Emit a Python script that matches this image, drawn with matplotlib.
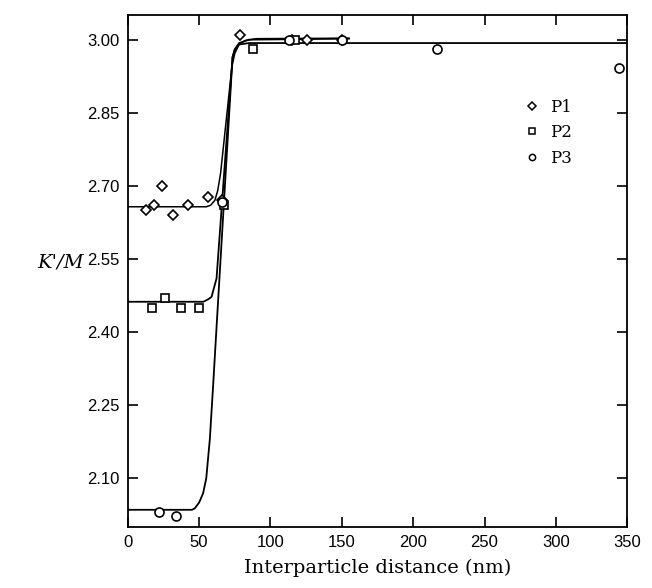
import matplotlib
matplotlib.use('Agg')
import matplotlib.pyplot as plt
from matplotlib.lines import Line2D

# measured points
p1_x = [13.1, 18.2, 24.3, 31.8, 42.3, 56.3, 65.7, 78.5, 115.0, 125.3, 149.9]
p1_y = [2.650, 2.660, 2.700, 2.640, 2.660, 2.677, 2.671, 3.010, 3.000, 3.000, 3.000]
p2_x = [17.0, 26.4, 37.0, 50.0, 67.3, 87.9, 117.0]
p2_y = [2.450, 2.470, 2.450, 2.450, 2.660, 2.981, 3.000]
p3_x = [21.9, 33.7, 65.7, 113.0, 149.9, 216.9, 344.3]
p3_y = [2.030, 2.022, 2.667, 3.000, 3.000, 2.981, 2.941]

# fitted curves
fit1_x = [0, 55, 58, 61, 63, 65, 69, 73, 75, 78, 82, 90, 155]
fit1_y = [2.657, 2.657, 2.660, 2.670, 2.690, 2.725, 2.835, 2.945, 2.972, 2.990, 2.998, 3.002, 3.003]
fit2_x = [0, 53, 56.3, 58.7, 62.2, 73.4, 75, 78, 85, 155]
fit2_y = [2.462, 2.462, 2.467, 2.472, 2.510, 2.964, 2.980, 2.993, 3.000, 3.002]
fit3_x = [0, 45, 47, 50, 52.8, 55, 57.5, 59.8, 62, 73.4, 75, 78, 85, 350]
fit3_y = [2.035, 2.035, 2.038, 2.050, 2.069, 2.100, 2.180, 2.290, 2.400, 2.964, 2.980, 2.990, 2.993, 2.993]

xticks = [0, 50, 100, 150, 200, 250, 300, 350]
yticks = [2.10, 2.25, 2.40, 2.55, 2.70, 2.85, 3.00]

fig = plt.figure(figsize=(6.52, 5.88), dpi=100)
ax = fig.add_axes([0.196, 0.104, 0.766, 0.870])

# curves
ax.plot(fit1_x, fit1_y, color='black', lw=1.1)
ax.plot(fit2_x, fit2_y, color='black', lw=1.3)
ax.plot(fit3_x, fit3_y, color='black', lw=1.3)

# points
ax.plot(p1_x, p1_y, 'D', ms=5.5, mfc='white', mec='black', mew=1.2, ls='none')
ax.plot(p2_x, p2_y, 's', ms=5.5, mfc='white', mec='black', mew=1.2, ls='none')
ax.plot(p3_x, p3_y, 'o', ms=6.5, mfc='white', mec='black', mew=1.2, ls='none')

ax.set_xlim(0, 350)
ax.set_ylim(2.0, 3.05)
ax.set_xticks(xticks)
ax.set_yticks(yticks)
ax.set_yticklabels(['%.2f' % v for v in yticks])
ax.tick_params(direction='in', length=7, width=1.2, top=True, right=True,
               labelsize=12, pad=6)
for lab in ax.get_xticklabels() + ax.get_yticklabels():
    lab.set_family('Liberation Sans')
for s in ax.spines.values():
    s.set_linewidth(1.3)

ax.set_xlabel('Interparticle distance (nm)', family='DejaVu Serif', fontsize=14, labelpad=6)
ax.set_ylabel("K'/M", family='DejaVu Serif', style='italic', fontsize=14,
              rotation=0, labelpad=8)
ax.yaxis.set_label_coords(-0.135, 0.50)

# legend
handles = [
    Line2D([], [], marker='D', ls='none', ms=4, mfc='white', mec='black', mew=1.1),
    Line2D([], [], marker='s', ls='none', ms=4, mfc='white', mec='black', mew=1.1),
    Line2D([], [], marker='o', ls='none', ms=4.5, mfc='white', mec='black', mew=1.1),
]
leg = ax.legend(handles, ['P1', 'P2', 'P3'], loc='upper left',
                bbox_to_anchor=(0.762, 0.866), frameon=False, handlelength=1.0,
                handletextpad=0.6, labelspacing=0.5,
                prop={'family': 'DejaVu Serif', 'size': 12})

fig.savefig('out.png', dpi=100)
